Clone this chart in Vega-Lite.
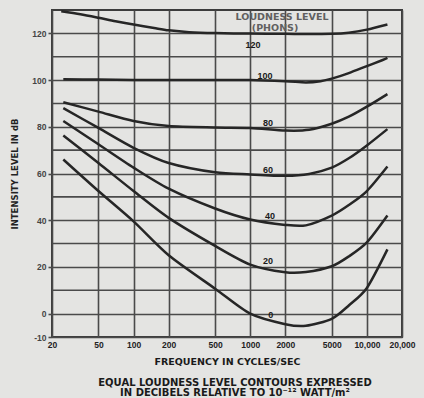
{
  "$schema": "https://vega.github.io/schema/vega-lite/v6.json",
  "width": 350,
  "height": 327,
  "autosize": {"type": "none"},
  "padding": {"left": 52, "top": 10, "right": 22, "bottom": 61},
  "background": "#e4e4e2",
  "config": {
    "font": "Liberation Sans",
    "view": {"stroke": "#3c3c3c", "strokeWidth": 2}
  },
  "title": {
    "text": ["EQUAL LOUDNESS LEVEL CONTOURS EXPRESSED", "IN DECIBELS RELATIVE TO 10⁻¹² WATT/m²"],
    "orient": "bottom",
    "anchor": "middle",
    "font": "DejaVu Sans",
    "fontSize": 10,
    "fontWeight": "bold",
    "color": "#1a1a1a",
    "lineHeight": 10,
    "offset": 12,
    "dx": 8
  },
  "datasets": {
    "curves": [
      {"phon": 120, "f": 24, "db": 129.5}, {"phon": 120, "f": 35, "db": 128.2}, {"phon": 120, "f": 50, "db": 126.7}, {"phon": 120, "f": 70, "db": 125.2}, {"phon": 120, "f": 100, "db": 123.8}, {"phon": 120, "f": 150, "db": 122.3}, {"phon": 120, "f": 200, "db": 121.3}, {"phon": 120, "f": 300, "db": 120.5}, {"phon": 120, "f": 500, "db": 120.1}, {"phon": 120, "f": 1000, "db": 119.9}, {"phon": 120, "f": 2000, "db": 119.8}, {"phon": 120, "f": 3000, "db": 119.7}, {"phon": 120, "f": 5000, "db": 119.8}, {"phon": 120, "f": 7000, "db": 120.3}, {"phon": 120, "f": 10000, "db": 121.6}, {"phon": 120, "f": 15000, "db": 123.8},
      {"phon": 100, "f": 25, "db": 100.3}, {"phon": 100, "f": 50, "db": 100.2}, {"phon": 100, "f": 100, "db": 100}, {"phon": 100, "f": 200, "db": 100}, {"phon": 100, "f": 500, "db": 100}, {"phon": 100, "f": 1000, "db": 100}, {"phon": 100, "f": 2000, "db": 99.5}, {"phon": 100, "f": 3000, "db": 99}, {"phon": 100, "f": 4000, "db": 99.5}, {"phon": 100, "f": 5000, "db": 100.6}, {"phon": 100, "f": 7000, "db": 103}, {"phon": 100, "f": 10000, "db": 106}, {"phon": 100, "f": 13500, "db": 108.5}, {"phon": 100, "f": 15000, "db": 109.5},
      {"phon": 80, "f": 25, "db": 90.5}, {"phon": 80, "f": 50, "db": 86.5}, {"phon": 80, "f": 100, "db": 82.5}, {"phon": 80, "f": 200, "db": 80.3}, {"phon": 80, "f": 500, "db": 79.7}, {"phon": 80, "f": 1000, "db": 79.5}, {"phon": 80, "f": 2000, "db": 78.4}, {"phon": 80, "f": 3200, "db": 78.7}, {"phon": 80, "f": 5000, "db": 81.3}, {"phon": 80, "f": 7000, "db": 84.3}, {"phon": 80, "f": 10000, "db": 88.6}, {"phon": 80, "f": 15000, "db": 94},
      {"phon": 60, "f": 25, "db": 88}, {"phon": 60, "f": 50, "db": 79.5}, {"phon": 60, "f": 100, "db": 71}, {"phon": 60, "f": 200, "db": 64.5}, {"phon": 60, "f": 500, "db": 60.5}, {"phon": 60, "f": 1000, "db": 59.6}, {"phon": 60, "f": 2000, "db": 59}, {"phon": 60, "f": 3200, "db": 59.8}, {"phon": 60, "f": 5000, "db": 62.5}, {"phon": 60, "f": 7000, "db": 66.5}, {"phon": 60, "f": 10000, "db": 72}, {"phon": 60, "f": 15000, "db": 79},
      {"phon": 40, "f": 25, "db": 82.5}, {"phon": 40, "f": 50, "db": 72.5}, {"phon": 40, "f": 100, "db": 62.5}, {"phon": 40, "f": 200, "db": 53.5}, {"phon": 40, "f": 500, "db": 45}, {"phon": 40, "f": 1000, "db": 40.3}, {"phon": 40, "f": 2000, "db": 38}, {"phon": 40, "f": 3000, "db": 37.8}, {"phon": 40, "f": 5000, "db": 42}, {"phon": 40, "f": 7000, "db": 46.5}, {"phon": 40, "f": 10000, "db": 52.5}, {"phon": 40, "f": 15000, "db": 63},
      {"phon": 20, "f": 25, "db": 76.3}, {"phon": 20, "f": 50, "db": 64.5}, {"phon": 20, "f": 100, "db": 52.5}, {"phon": 20, "f": 200, "db": 41}, {"phon": 20, "f": 500, "db": 29}, {"phon": 20, "f": 1000, "db": 21}, {"phon": 20, "f": 2000, "db": 17.7}, {"phon": 20, "f": 3000, "db": 17.8}, {"phon": 20, "f": 5000, "db": 20.3}, {"phon": 20, "f": 7000, "db": 24.5}, {"phon": 20, "f": 10000, "db": 30.5}, {"phon": 20, "f": 15000, "db": 42},
      {"phon": 0, "f": 25, "db": 66}, {"phon": 0, "f": 50, "db": 52.5}, {"phon": 0, "f": 100, "db": 39.5}, {"phon": 0, "f": 200, "db": 25}, {"phon": 0, "f": 500, "db": 10.7}, {"phon": 0, "f": 1000, "db": 0}, {"phon": 0, "f": 2000, "db": -4.5}, {"phon": 0, "f": 3000, "db": -5.2}, {"phon": 0, "f": 5000, "db": -2.2}, {"phon": 0, "f": 7000, "db": 3.5}, {"phon": 0, "f": 10000, "db": 11}, {"phon": 0, "f": 15000, "db": 27.5}
    ],
    "minorgrid": [
      {"db": 10}, {"db": 30}, {"db": 50}, {"db": 70}, {"db": 90}, {"db": 110}
    ],
    "labels": [
      {"label": "120", "f": 1058, "db": 114.9},
      {"label": "100", "f": 1340, "db": 101.7},
      {"label": "80", "f": 1420, "db": 81.7},
      {"label": "60", "f": 1420, "db": 61.7},
      {"label": "40", "f": 1480, "db": 41.7},
      {"label": "20", "f": 1420, "db": 22.5},
      {"label": "0", "f": 1500, "db": -0.4}
    ],
    "header": [
      {"label": "LOUDNESS LEVEL", "f": 1874, "db": 127.2},
      {"label": "(PHONS)", "f": 1632, "db": 122.1}
    ]
  },
  "layer": [
    {
      "data": {"name": "minorgrid"},
      "mark": {"type": "rule", "color": "#4a4a4a", "strokeWidth": 1.6},
      "encoding": {
        "y": {"field": "db", "type": "quantitative"}
      }
    },
    {
      "data": {"name": "curves"},
      "mark": {"type": "line", "interpolate": "cardinal", "tension": 0.2, "color": "#262626", "strokeWidth": 2.5},
      "encoding": {
        "x": {
          "field": "f", "type": "quantitative",
          "scale": {"type": "log", "domain": [20, 20000], "nice": false},
          "axis": {
            "values": [20, 50, 100, 200, 500, 1000, 2000, 5000, 10000, 20000],
            "labelExpr": "datum.value >= 10000 ? format(datum.value, ',') : '' + datum.value",
            "title": "FREQUENCY IN CYCLES/SEC",
            "titleFont": "DejaVu Sans", "titleFontSize": 9.5, "titleFontWeight": "bold", "titleColor": "#1a1a1a",
            "titlePadding": 8,
            "labelFont": "Liberation Sans", "labelFontSize": 8.5, "labelFontWeight": "bold", "labelColor": "#222",
            "labelPadding": 3, "labelFlush": false, "labelOverlap": false,
            "domain": false, "ticks": false,
            "grid": true, "gridColor": "#4a4a4a", "gridWidth": 1.6, "gridOpacity": 1
          }
        },
        "y": {
          "field": "db", "type": "quantitative",
          "scale": {"domain": [-10, 130], "nice": false},
          "axis": {
            "values": [-10, 0, 20, 40, 60, 80, 100, 120],
            "labelExpr": "'' + datum.value",
            "title": "INTENSITY LEVEL IN dB",
            "titleFont": "DejaVu Sans", "titleFontSize": 8.5, "titleFontWeight": "bold", "titleColor": "#222",
            "titlePadding": 12,
            "labelFont": "Liberation Sans", "labelFontSize": 8.5, "labelFontWeight": "bold", "labelColor": "#444",
            "labelPadding": 2, "labelOverlap": false,
            "domain": false, "ticks": true, "tickSize": 4, "tickColor": "#4a4a4a", "tickWidth": 1.6,
            "grid": true, "gridColor": "#4a4a4a", "gridWidth": 1.6, "gridOpacity": 1
          }
        },
        "detail": {"field": "phon", "type": "nominal"}
      }
    },
    {
      "data": {"name": "labels"},
      "mark": {"type": "text", "font": "Liberation Sans", "fontSize": 9, "fontWeight": "bold", "color": "#1a1a1a"},
      "encoding": {
        "x": {"field": "f", "type": "quantitative"},
        "y": {"field": "db", "type": "quantitative"},
        "text": {"field": "label"}
      }
    },
    {
      "data": {"name": "header"},
      "mark": {"type": "text", "font": "DejaVu Sans", "fontSize": 9.5, "fontWeight": "bold", "color": "#606060"},
      "encoding": {
        "x": {"field": "f", "type": "quantitative"},
        "y": {"field": "db", "type": "quantitative"},
        "text": {"field": "label"}
      }
    }
  ]
}
